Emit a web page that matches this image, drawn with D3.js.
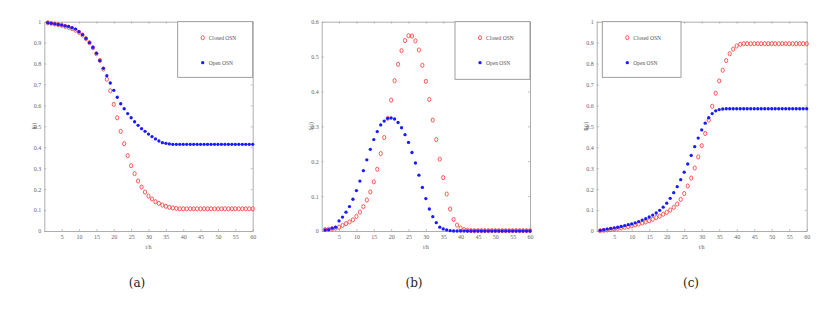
<!DOCTYPE html>
<html>
<head>
<meta charset="utf-8">
<script src="https://cdn.jsdelivr.net/npm/d3@7"></script>
<style>
  body { margin: 0; background: #fff; }
  svg { display: block; }
  .tick text { font-family: "Liberation Serif", serif; font-size: 6px; fill: #666; }
  .lbl { font-family: "Liberation Serif", serif; font-size: 5.5px; fill: #555; }
  .cap { font-family: "DejaVu Serif", serif; font-size: 12px; fill: #222; }
</style>
</head>
<body>
<svg id="chart" width="830" height="309"></svg>
<script>
// time steps t = 1..60
var hours = d3.range(1, 61);
var xTicks = [5, 10, 15, 20, 25, 30, 35, 40, 45, 50, 55, 60];
var legendNames = ["Closed OSN", "Open OSN"];

// (a) I(t)
var closedA = [0.995,0.992,0.989,0.986,0.983,0.978,0.973,0.967,0.959,0.949,0.936,0.919,0.900,0.876,0.847,0.815,0.774,0.725,0.670,0.605,
  0.541,0.476,0.417,0.360,0.312,0.274,0.239,0.210,0.186,0.167,0.153,0.140,0.132,0.124,0.118,0.113,0.110,0.108,0.106,0.106,
  0.106,0.106,0.106,0.106,0.106,0.106,0.106,0.106,0.106,0.106,0.106,0.106,0.106,0.106,0.106,0.106,0.106,0.106,0.106,0.106];
var openA = [0.995,0.992,0.990,0.987,0.984,0.980,0.977,0.971,0.965,0.952,0.938,0.920,0.900,0.877,0.849,0.814,0.777,0.742,0.707,0.672,
  0.639,0.608,0.584,0.561,0.541,0.522,0.505,0.489,0.476,0.463,0.451,0.440,0.430,0.422,0.419,0.416,0.414,0.414,0.414,0.414,
  0.414,0.414,0.414,0.414,0.414,0.414,0.414,0.414,0.414,0.414,0.414,0.414,0.414,0.414,0.414,0.414,0.414,0.414,0.414,0.414];

// (b) S(t)
var closedB = [0.004,0.005,0.006,0.008,0.011,0.016,0.021,0.026,0.032,0.042,0.054,0.070,0.089,0.112,0.141,0.177,0.222,0.268,0.323,0.375,
  0.431,0.478,0.517,0.546,0.560,0.559,0.545,0.519,0.475,0.429,0.377,0.318,0.262,0.206,0.153,0.106,0.063,0.033,0.017,0.008,
  0.004,0.002,0.001,0.001,0.001,0.001,0.001,0.001,0.001,0.001,0.001,0.001,0.001,0.001,0.001,0.001,0.001,0.001,0.001,0.001];
var openB = [0.003,0.004,0.008,0.011,0.029,0.040,0.054,0.070,0.091,0.116,0.143,0.173,0.204,0.234,0.262,0.285,0.304,0.315,0.323,0.324,
  0.321,0.311,0.296,0.276,0.254,0.225,0.195,0.160,0.125,0.093,0.063,0.041,0.024,0.011,0.006,0.003,0.001,0,0,0,
  0,0,0,0,0,0,0,0,0,0,0,0,0,0,0,0,0,0,0,0];

// (c) R(t)
var closedC = [0.001,0.003,0.005,0.007,0.009,0.012,0.015,0.018,0.021,0.025,0.029,0.033,0.038,0.043,0.049,0.056,0.064,0.071,0.080,0.089,
  0.100,0.113,0.129,0.151,0.179,0.215,0.253,0.301,0.354,0.408,0.466,0.530,0.596,0.658,0.717,0.768,0.814,0.847,0.869,0.884,
  0.892,0.895,0.895,0.895,0.895,0.895,0.895,0.895,0.895,0.895,0.895,0.895,0.895,0.895,0.895,0.895,0.895,0.895,0.895,0.895];
var openC = [0.003,0.006,0.009,0.012,0.015,0.018,0.022,0.026,0.030,0.034,0.039,0.045,0.052,0.059,0.067,0.076,0.086,0.099,0.114,0.133,
  0.156,0.183,0.212,0.245,0.281,0.320,0.361,0.403,0.444,0.483,0.515,0.541,0.561,0.574,0.580,0.583,0.584,0.584,0.584,0.584,
  0.584,0.584,0.584,0.584,0.584,0.584,0.584,0.584,0.584,0.584,0.584,0.584,0.584,0.584,0.584,0.584,0.584,0.584,0.584,0.584];

var svg = d3.select("#chart");
var top0 = 21.7, bottom0 = 231;

var drawPanel = function(p) {
  var x = d3.scaleLinear().domain([0, 60]).range([p.left, p.right]);
  var y = d3.scaleLinear().domain([0, p.ymax]).range([bottom0, top0]);
  var g = svg.append("g");

  var fmt = function(d) { return d === 0 ? "0" : d3.format("~g")(+d.toFixed(1)); };

  // box + ticks on all four sides
  g.append("g").attr("transform", "translate(0," + bottom0 + ")")
    .call(d3.axisBottom(x).tickValues(xTicks).tickSizeInner(-2).tickSizeOuter(0).tickPadding(4));
  g.append("g").attr("transform", "translate(0," + top0 + ")")
    .call(d3.axisTop(x).tickValues(xTicks).tickSizeInner(-2).tickSizeOuter(0).tickFormat(""));
  g.append("g").attr("transform", "translate(" + p.left + ",0)")
    .call(d3.axisLeft(y).tickValues(p.yTicks).tickSizeInner(-2).tickSizeOuter(0).tickPadding(3).tickFormat(fmt));
  g.append("g").attr("transform", "translate(" + p.right + ",0)")
    .call(d3.axisRight(y).tickValues(p.yTicks).tickSizeInner(-2).tickSizeOuter(0).tickFormat(""));
  g.selectAll(".domain").attr("stroke", "#999").attr("stroke-width", 0.8);
  g.selectAll(".tick line").attr("stroke", "#999").attr("stroke-width", 0.6);

  // axis labels
  g.append("text").attr("class", "lbl")
    .attr("x", (p.left + p.right) / 2).attr("y", 249)
    .attr("text-anchor", "middle").text("t/h");
  g.append("text").attr("class", "lbl")
    .attr("transform", "translate(" + (p.left - 8.5) + "," + ((top0 + bottom0) / 2) + ") rotate(-90)")
    .attr("text-anchor", "middle").text(p.ylabel);

  // series
  g.append("g").selectAll("ellipse").data(p.closed).join("ellipse")
    .attr("cx", function(d, i) { return x(hours[i]); })
    .attr("cy", function(d) { return y(d); })
    .attr("rx", 1.6).attr("ry", 2.1)
    .attr("fill", "none").attr("stroke", "#ff3333").attr("stroke-width", 0.8);
  g.append("g").selectAll("circle").data(p.open).join("circle")
    .attr("cx", function(d, i) { return x(hours[i]); })
    .attr("cy", function(d) { return y(d); })
    .attr("r", 1.65)
    .attr("fill", "#1a1aff");

  // legend
  var lg = g.append("g");
  lg.append("rect").attr("x", p.leg[0]).attr("y", top0)
    .attr("width", p.leg[1] - p.leg[0]).attr("height", p.leg[2] - top0)
    .attr("fill", "#fff").attr("stroke", "#888").attr("stroke-width", 0.8);
  var mx = p.leg[0] + 25;
  lg.append("ellipse").attr("cx", mx).attr("cy", 37.7).attr("rx", 1.6).attr("ry", 2.1)
    .attr("fill", "none").attr("stroke", "#ff3333").attr("stroke-width", 0.8);
  lg.append("circle").attr("cx", mx).attr("cy", 62.7).attr("r", 1.65).attr("fill", "#1a1aff");
  lg.append("text").attr("class", "lbl").attr("x", mx + 6).attr("y", 39.5).text(legendNames[0]);
  lg.append("text").attr("class", "lbl").attr("x", mx + 6).attr("y", 64.5).text(legendNames[1]);

  svg.append("text").attr("class", "cap")
    .attr("x", p.cap).attr("y", 287).attr("text-anchor", "middle").text(p.caption);
};

drawPanel({ left: 44.3, right: 252.7, ymax: 1, yTicks: d3.range(0, 11).map(function(d) { return d / 10; }),
  ylabel: "I(t)", closed: closedA, open: openA, leg: [177.7, 252.7, 77.3], cap: 137, caption: "(a)" });
drawPanel({ left: 321.7, right: 530, ymax: 0.6, yTicks: d3.range(0, 7).map(function(d) { return d / 10; }),
  ylabel: "S(t)", closed: closedB, open: openB, leg: [455, 530, 79.3], cap: 414, caption: "(b)" });
drawPanel({ left: 596.7, right: 806.7, ymax: 1, yTicks: d3.range(0, 11).map(function(d) { return d / 10; }),
  ylabel: "R(t)", closed: closedC, open: openC, leg: [602.3, 681, 77.3], cap: 691, caption: "(c)" });
</script>
</body>
</html>
